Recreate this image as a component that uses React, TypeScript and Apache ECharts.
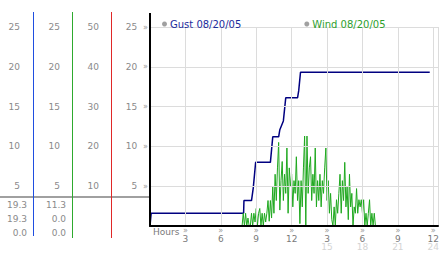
import React, { useEffect, useRef } from 'react';
import * as echarts from 'echarts';

const gustLabel = 'Gust 08/20/05';
const windLabel = 'Wind 08/20/05';
const axisTitle = 'Hours';

// [hour, mph]
const gustPoints: [number, number][] = [
  [0, 0], [0.1, 1.6], [7.93, 1.6], [7.96, 3.2], [8.6, 3.2], [8.75, 4.8], [8.95, 8.0],
  [10.2, 8.0], [10.3, 9.6], [10.4, 11.2], [10.9, 11.2], [11.0, 12.1], [11.3, 13.2],
  [11.5, 16.1], [12.5, 16.1], [12.6, 17.0], [12.75, 19.3], [23.7, 19.3],
];

const windPoints: [number, number][] = [
  [0, 0], [7.8, 0], [7.9, 1.6], [8.0, 0], [8.1, 1.6], [8.2, 0], [8.3, 1.0], [8.4, 0],
  [8.5, 0], [8.6, 1.6], [8.7, 0], [8.8, 1.6], [8.9, 0.5], [9.0, 2.2], [9.1, 0],
  [9.2, 1.6], [9.3, 2.2], [9.4, 0], [9.5, 1.6], [9.6, 0], [9.7, 1.6], [9.8, 0.5],
  [9.9, 1.6], [10.0, 3.2], [10.1, 0.6], [10.2, 3.2], [10.3, 1.0], [10.4, 4.9],
  [10.5, 1.6], [10.6, 6.5], [10.7, 3.2], [10.8, 7.3], [10.9, 10.5], [11.0, 2.0],
  [11.1, 5.7], [11.2, 8.1], [11.3, 3.2], [11.4, 6.5], [11.5, 4.1], [11.6, 9.8],
  [11.7, 1.6], [11.8, 7.3], [11.9, 4.9], [12.0, 6.5], [12.1, 2.4], [12.2, 5.7],
  [12.3, 4.1], [12.4, 8.7], [12.5, 3.2], [12.6, 5.7], [12.7, 0.3], [12.8, 5.7],
  [12.9, 2.4], [13.0, 7.3], [13.1, 11.3], [13.2, 0], [13.3, 11.3], [13.4, 4.1],
  [13.5, 7.3], [13.6, 8.7], [13.7, 3.2], [13.8, 6.5], [13.9, 4.1], [14.0, 9.8],
  [14.1, 2.4], [14.2, 5.7], [14.3, 3.2], [14.4, 6.5], [14.5, 2.4], [14.6, 5.7],
  [14.7, 4.1], [14.8, 7.3], [14.9, 9.8], [15.0, 3.2], [15.1, 5.7], [15.2, 1.6],
  [15.3, 4.1], [15.4, 0.8], [15.5, 0], [15.6, 2.4], [15.7, 0], [15.8, 3.3],
  [15.9, 1.6], [16.0, 4.1], [16.1, 6.5], [16.2, 1.6], [16.3, 5.7], [16.4, 3.2],
  [16.5, 8.0], [16.6, 2.4], [16.7, 4.9], [16.8, 0.8], [16.9, 6.5], [17.0, 2.4],
  [17.1, 4.1], [17.2, 0], [17.3, 2.4], [17.4, 1.6], [17.5, 4.7], [17.6, 1.6],
  [17.7, 3.3], [17.8, 2.4], [17.9, 3.3], [18.0, 1.6], [18.1, 3.3], [18.2, 0],
  [18.3, 1.6], [18.4, 0], [18.5, 1.6], [18.6, 3.3], [18.7, 0], [18.8, 1.6],
  [18.9, 0], [19.0, 1.6], [19.1, 0], [24.4, 0],
];

const gustStats = ['19.3', '19.3', '0.0'];
const windStats = ['11.3', '0.0', '0.0'];

const FONT = '"DejaVu Sans", Verdana, sans-serif';
const LABEL_GRAY = '#8a8a8a';
const MARK_GRAY = '#9a9a9a';

export default function App() {
  const ref = useRef<HTMLDivElement>(null);

  useEffect(() => {
    if (!ref.current) return;
    const chart = echarts.init(ref.current, null, { renderer: 'svg' });

    const hideZero = (v: number) => (v === 0 ? '' : String(v));
    const sideAxis = (offset: number, max: number, interval: number, margin: number) => ({
      type: 'value' as const,
      position: 'left' as const,
      offset,
      min: 0,
      max,
      interval,
      axisLine: { show: false },
      axisTick: { show: false },
      splitLine: { show: false },
      axisLabel: {
        margin,
        formatter: hideZero,
        color: LABEL_GRAY,
        fontFamily: FONT,
        fontSize: 9,
      },
    });

    const vbar = (x: number, y1: number, y2: number, color: string, w = 1) => ({
      type: 'rect',
      shape: { x, y: y1, width: w, height: y2 - y1 },
      style: { fill: color },
      silent: true,
      z: 10,
    });

    const statText = (text: string, x: number, y: number) => ({
      type: 'text',
      x,
      y,
      style: {
        text,
        fill: LABEL_GRAY,
        font: `9px ${FONT}`,
        textAlign: 'right',
        textVerticalAlign: 'middle',
        align: 'right',
        verticalAlign: 'middle',
      },
      silent: true,
      z: 10,
    });

    const option: any = {
      animation: false,
      backgroundColor: '#ffffff',
      grid: { left: 150, right: 0, top: 27, bottom: 27, containLabel: false },
      legend: {
        left: 157,
        top: 14,
        itemWidth: 5,
        itemHeight: 5,
        itemGap: 63,
        icon: 'circle',
        textStyle: { fontFamily: FONT, fontSize: 10, padding: [0, 0, 0, -2] },
        data: [
          { name: gustLabel, itemStyle: { color: '#a0a0a0' }, textStyle: { color: '#1c2c9c' } },
          { name: windLabel, itemStyle: { color: '#a0a0a0' }, textStyle: { color: '#2ea02e' } },
        ],
      },
      xAxis: {
        type: 'value',
        min: 0,
        max: 24.4,
        interval: 3,
        z: 3,
        axisLine: { show: true, onZero: false, lineStyle: { color: '#000', width: 2 } },
        axisTick: { show: false },
        splitLine: { show: true, lineStyle: { color: '#dcdcdc', width: 1 } },
        axisLabel: {
          margin: 0,
          showMaxLabel: false,
          formatter: (v: number) => {
            if (v === 0 || v % 3 !== 0) return '';
            const h = v <= 12 ? v : v - 12;
            return v > 12 ? `{m|»}\n{n|${h}}\n{f|${v}}` : `{m|»}\n{n|${h}}`;
          },
          rich: {
            m: { fontFamily: FONT, fontSize: 8, color: MARK_GRAY, lineHeight: 8.5 },
            n: { fontFamily: FONT, fontSize: 9, color: '#7a7a7a', lineHeight: 8.5 },
            f: { fontFamily: FONT, fontSize: 9, color: '#d4d4d4', lineHeight: 8.5 },
          },
        },
      },
      yAxis: [
        {
          type: 'value',
          position: 'left',
          min: 0,
          max: 25,
          interval: 5,
          z: 3,
          axisLine: { show: true, lineStyle: { color: '#000', width: 2 } },
          axisTick: { show: false },
          splitLine: { show: true, lineStyle: { color: '#dcdcdc', width: 1 } },
          axisLabel: {
            margin: 2,
            formatter: (v: number) => (v === 0 ? '' : `{n|${v}}{m|»}`),
            rich: {
              n: { fontFamily: FONT, fontSize: 9, color: LABEL_GRAY },
              m: { fontFamily: FONT, fontSize: 8, color: MARK_GRAY, padding: [0, 0, 0, 6] },
            },
          },
        },
        sideAxis(117, 25, 5, 13),
        sideAxis(78, 25, 5, 12),
        sideAxis(39, 50, 10, 12),
      ],
      series: [
        {
          name: gustLabel,
          type: 'line',
          data: gustPoints,
          showSymbol: false,
          symbol: 'none',
          lineStyle: { color: '#000080', width: 1.5 },
          itemStyle: { color: '#000080' },
          z: 2,
        },
        {
          name: windLabel,
          type: 'line',
          data: windPoints,
          showSymbol: false,
          symbol: 'none',
          lineStyle: { color: '#1fa81f', width: 1 },
          itemStyle: { color: '#1fa81f' },
          z: 2,
        },
      ],
      graphic: [
        vbar(33, 12, 236, '#1f4ee0'),
        vbar(72, 12, 238, '#2eaa2e'),
        vbar(111, 12, 238, '#e02828'),
        vbar(149, 13, 28, '#000000', 2),
        {
          type: 'rect',
          shape: { x: 0, y: 196, width: 149, height: 2 },
          style: { fill: '#a0a0a0' },
          silent: true,
          z: 9,
        },
        {
          type: 'text',
          x: 153,
          y: 232,
          style: {
            text: axisTitle,
            fill: '#7a7a7a',
            font: `9px ${FONT}`,
            textAlign: 'left',
            textVerticalAlign: 'middle',
            align: 'left',
            verticalAlign: 'middle',
          },
          silent: true,
          z: 10,
        },
        ...gustStats.map((t, i) => statText(t, 27, 204.5 + i * 14)),
        ...windStats.map((t, i) => statText(t, 66, 204.5 + i * 14)),
      ],
    };

    chart.setOption(option);
    return () => chart.dispose();
  }, []);

  return (
    <div
      ref={ref}
      style={{ position: 'absolute', left: 0, top: 0, width: 442, height: 253, background: '#fff' }}
    />
  );
}
